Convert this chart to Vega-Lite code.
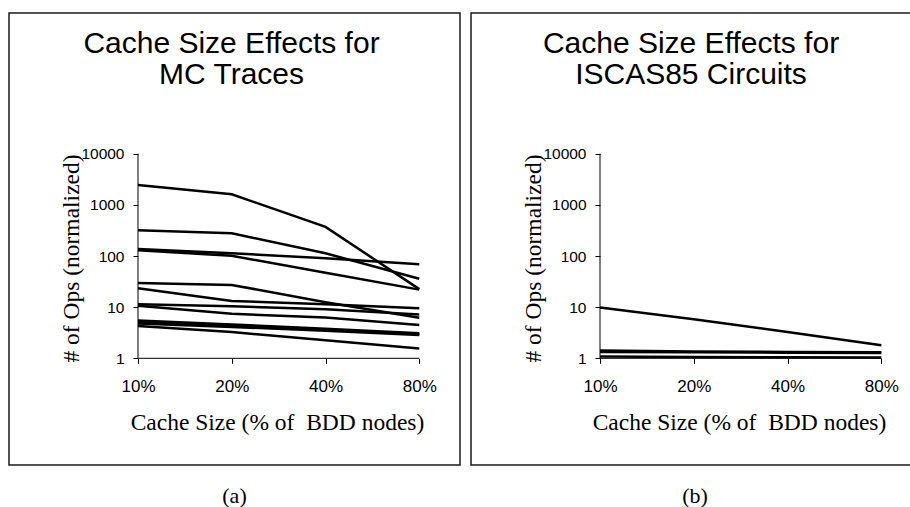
{
  "$schema": "https://vega.github.io/schema/vega-lite/v6.json",
  "padding": {"left": 8, "top": 12, "right": 0, "bottom": 0},
  "background": "white",
  "spacing": 9,
  "datasets": {
    "mc": [
      {"series": "A", "cache": 10, "ops": 2455}, {"series": "A", "cache": 20, "ops": 1611}, {"series": "A", "cache": 40, "ops": 370}, {"series": "A", "cache": 80, "ops": 22.5},
      {"series": "B", "cache": 10, "ops": 319}, {"series": "B", "cache": 20, "ops": 278}, {"series": "B", "cache": 40, "ops": 113}, {"series": "B", "cache": 80, "ops": 36},
      {"series": "C", "cache": 10, "ops": 137}, {"series": "C", "cache": 20, "ops": 113}, {"series": "C", "cache": 40, "ops": 90}, {"series": "C", "cache": 80, "ops": 69},
      {"series": "D", "cache": 10, "ops": 129}, {"series": "D", "cache": 20, "ops": 101}, {"series": "D", "cache": 40, "ops": 47}, {"series": "D", "cache": 80, "ops": 22},
      {"series": "E", "cache": 10, "ops": 29.7}, {"series": "E", "cache": 20, "ops": 27.2}, {"series": "E", "cache": 40, "ops": 12.5}, {"series": "E", "cache": 80, "ops": 6.2},
      {"series": "F", "cache": 10, "ops": 23.4}, {"series": "F", "cache": 20, "ops": 13.2}, {"series": "F", "cache": 40, "ops": 11.4}, {"series": "F", "cache": 80, "ops": 9.5},
      {"series": "G", "cache": 10, "ops": 11.4}, {"series": "G", "cache": 20, "ops": 10.4}, {"series": "G", "cache": 40, "ops": 9.1}, {"series": "G", "cache": 80, "ops": 7.2},
      {"series": "H", "cache": 10, "ops": 10.7}, {"series": "H", "cache": 20, "ops": 7.4}, {"series": "H", "cache": 40, "ops": 6.3}, {"series": "H", "cache": 80, "ops": 4.5},
      {"series": "I", "cache": 10, "ops": 5.5}, {"series": "I", "cache": 20, "ops": 4.6}, {"series": "I", "cache": 40, "ops": 3.8}, {"series": "I", "cache": 80, "ops": 3.1},
      {"series": "J", "cache": 10, "ops": 5.1}, {"series": "J", "cache": 20, "ops": 4.35}, {"series": "J", "cache": 40, "ops": 3.6}, {"series": "J", "cache": 80, "ops": 2.95},
      {"series": "K", "cache": 10, "ops": 4.8}, {"series": "K", "cache": 20, "ops": 4.1}, {"series": "K", "cache": 40, "ops": 3.45}, {"series": "K", "cache": 80, "ops": 2.85},
      {"series": "L", "cache": 10, "ops": 4.3}, {"series": "L", "cache": 20, "ops": 3.25}, {"series": "L", "cache": 40, "ops": 2.25}, {"series": "L", "cache": 80, "ops": 1.55}
    ],
    "iscas": [
      {"series": "P", "cache": 10, "ops": 9.8}, {"series": "P", "cache": 20, "ops": 5.8}, {"series": "P", "cache": 40, "ops": 3.27}, {"series": "P", "cache": 80, "ops": 1.8},
      {"series": "Q", "cache": 10, "ops": 1.42}, {"series": "Q", "cache": 20, "ops": 1.36}, {"series": "Q", "cache": 40, "ops": 1.33}, {"series": "Q", "cache": 80, "ops": 1.31},
      {"series": "R", "cache": 10, "ops": 1.33}, {"series": "R", "cache": 20, "ops": 1.31}, {"series": "R", "cache": 40, "ops": 1.29}, {"series": "R", "cache": 80, "ops": 1.27},
      {"series": "S", "cache": 10, "ops": 1.08}, {"series": "S", "cache": 20, "ops": 1.06}, {"series": "S", "cache": 40, "ops": 1.05}, {"series": "S", "cache": 80, "ops": 1.04}
    ]
  },
  "config": {
    "view": {"stroke": "#1a1a1a", "strokeWidth": 1.5},
    "axis": {
      "grid": false, "domain": false, "tickColor": "black", "tickSize": 5, "tickWidth": 1,
      "labelFont": "Liberation Sans", "labelFontSize": 17, "labelColor": "black", "labelFlush": false, "labelOverlap": false,
      "titleFont": "Liberation Serif", "titleFontSize": 23.5, "titleFontWeight": "normal", "titleColor": "black"
    },
    "title": {"font": "Liberation Sans", "fontSize": 30, "fontWeight": "normal", "color": "black", "lineHeight": 31}
  },
  "hconcat": [
    {
      "title": {"text": "(a)", "orient": "bottom", "font": "Liberation Serif", "fontSize": 22, "offset": 20, "anchor": "middle"},
      "vconcat": [
        {
          "width": 451, "height": 452,
          "title": {"text": ["Cache Size Effects for", "MC Traces"], "offset": -77, "anchor": "middle", "dx": -3},
          "layer": [
            {
              "data": {"name": "mc"},
              "mark": {"type": "line", "color": "black", "strokeWidth": 2.5},
              "encoding": {
                "x": {"field": "cache", "type": "quantitative",
                      "scale": {"type": "log", "base": 2, "domain": [3.8534, 108.1], "nice": false},
                      "axis": {"orient": "bottom", "offset": -106.7, "values": [10, 20, 40, 80], "labelExpr": "datum.value + '%'",
                               "labelBaseline": "alphabetic", "labelPadding": 28.4,
                               "title": "Cache Size (% of\u00a0 BDD nodes)", "titleX": 268, "titleY": 70.7, "titleBaseline": "alphabetic"}},
                "y": {"field": "ops", "type": "quantitative",
                      "scale": {"type": "log", "domain": [0.008204, 5633000], "nice": false},
                      "axis": {"orient": "left", "offset": -129, "values": [1, 10, 100, 1000, 10000], "format": "d", "labelPadding": 9, "labelFontSize": 15.5,
                               "title": "# of Ops (normalized)", "titleX": -55, "titleY": 245, "titleAngle": -90, "titleBaseline": "bottom"}},
                "detail": {"field": "series"}
              }
            },
            {
              "data": {"values": [{}]},
              "mark": {"type": "rule", "color": "black", "strokeWidth": 1},
              "encoding": {"x": {"datum": 10}, "y": {"datum": 1}, "y2": {"datum": 10000}}
            },
            {
              "data": {"values": [{}]},
              "mark": {"type": "rule", "color": "black", "strokeWidth": 1},
              "encoding": {"y": {"datum": 1}, "x": {"datum": 10}, "x2": {"datum": 80}}
            }
          ]
        }
      ]
    },
    {
      "title": {"text": "(b)", "orient": "bottom", "font": "Liberation Serif", "fontSize": 22, "offset": 20, "anchor": "middle", "dx": 4},
      "vconcat": [
        {
          "width": 440, "height": 452,
          "title": {"text": ["Cache Size Effects for", "ISCAS85 Circuits"], "offset": -77, "anchor": "middle"},
          "layer": [
            {
              "data": {"name": "iscas"},
              "mark": {"type": "line", "color": "black", "strokeWidth": 2.5},
              "encoding": {
                "x": {"field": "cache", "type": "quantitative",
                      "scale": {"type": "log", "base": 2, "domain": [3.8534, 99.61], "nice": false},
                      "axis": {"orient": "bottom", "offset": -106.7, "values": [10, 20, 40, 80], "labelExpr": "datum.value + '%'",
                               "labelBaseline": "alphabetic", "labelPadding": 28.4,
                               "title": "Cache Size (% of\u00a0 BDD nodes)", "titleX": 268, "titleY": 70.7, "titleBaseline": "alphabetic"}},
                "y": {"field": "ops", "type": "quantitative",
                      "scale": {"type": "log", "domain": [0.008204, 5633000], "nice": false},
                      "axis": {"orient": "left", "offset": -129, "values": [1, 10, 100, 1000, 10000], "format": "d", "labelPadding": 9, "labelFontSize": 15.5,
                               "title": "# of Ops (normalized)", "titleX": -55, "titleY": 245, "titleAngle": -90, "titleBaseline": "bottom"}},
                "detail": {"field": "series"}
              }
            },
            {
              "data": {"values": [{}]},
              "mark": {"type": "rule", "color": "black", "strokeWidth": 1},
              "encoding": {"x": {"datum": 10}, "y": {"datum": 1}, "y2": {"datum": 10000}}
            },
            {
              "data": {"values": [{}]},
              "mark": {"type": "rule", "color": "black", "strokeWidth": 1},
              "encoding": {"y": {"datum": 1}, "x": {"datum": 10}, "x2": {"datum": 80}}
            }
          ]
        }
      ]
    }
  ]
}
